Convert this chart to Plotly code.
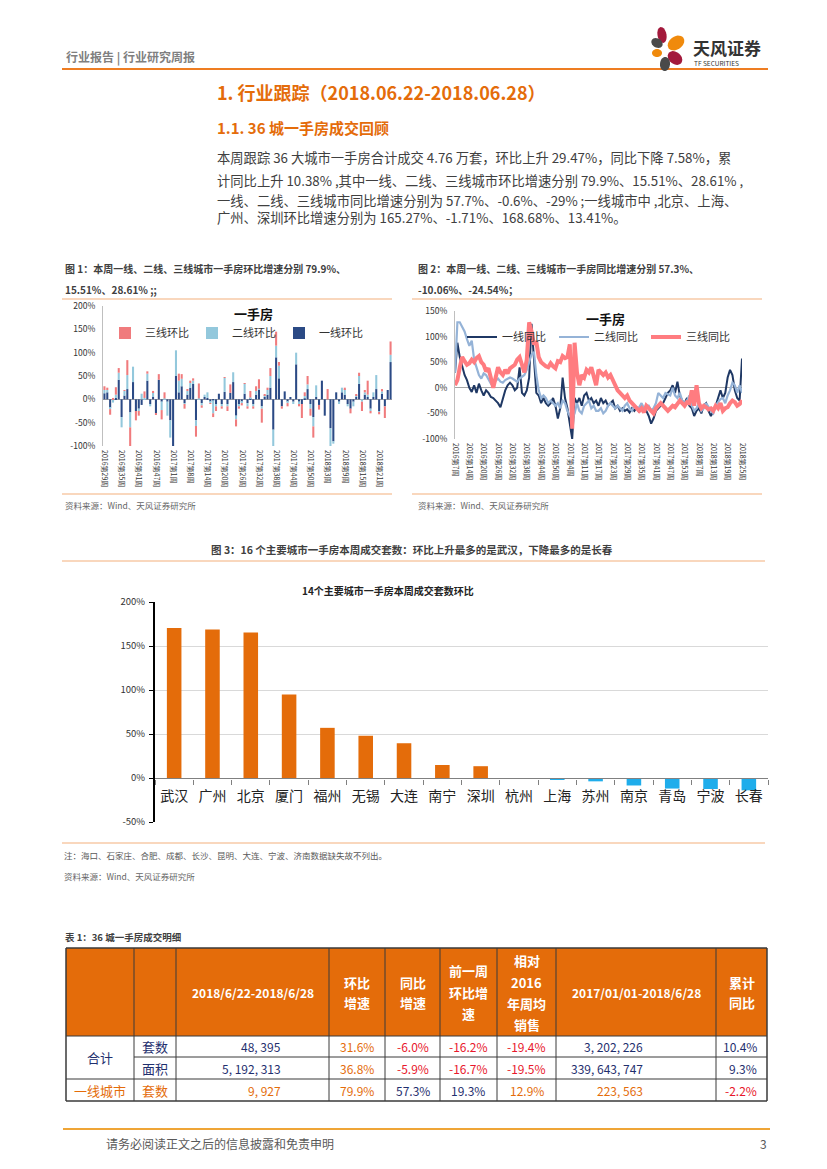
import math
import plotly.graph_objects as go

# page is 827x1169; the browser body has an 8px margin, so the figure is drawn
# 8px in from the page corner and sized to fit inside the window.
PAGE_OFF = 8
W, H = 827 - 2 * PAGE_OFF, 1169 - 2 * PAGE_OFF
FONT = "Noto Sans CJK SC"

# ---------------- data ----------------
def weeks(year, first, last, skip=()):
    return [f"{year}第{w}周" for w in range(first, last + 1) if w not in skip]

fig1_weeks = weeks(2016, 29, 52) + weeks(2017, 1, 53, (5,)) + weeks(2018, 1, 25)
tier1_mom = [13, 15, -18, -3, 3, 42, -38, 8, 22, -28,
             37, -25, -20, -12, 0, 40, -10, 5, -30, 42,
             -5, 0, -5, -45, -100, 50, 15, 28, -8, 10,
             25, 33, -45, 0, -8, 5, 3, -5, -2, -10,
             12, -10, 16, -10, 14, 37, -35, -10, -5, 12,
             -8, 2, -10, 10, 20, -15, 5, 10, 25, -65,
             90, 45, -15, 17, -5, 5, -5, 75, -5, -10,
             2, 22, -10, -38, 5, -12, 40, -35, 0, -62,
             -90, 15, -5, 15, 10, -10, -20, -5, 5, 33,
             0, 10, 5, -20, 5, 22, -25, 12, -15, 20,
             79.9]
tier2_mom = [7, 5, -3, -4, 7, 15, -22, 10, 30, -32,
             33, 0, -5, 12, 3, 15, -5, 10, 0, 0,
             -18, 2, -30, -37, 0, 55, 25, 16, -2, 8,
             10, 7, -12, 2, -5, 5, 12, -3, -28, -5,
             0, -5, 30, -5, 0, 21, -8, -5, -3, 22,
             -7, 2, -5, 8, 3, -5, 3, 10, 25, -35,
             25, 27, 0, 0, -3, 0, -5, 25, -5, 0,
             5, 10, -10, -20, 25, 0, 0, 0, 0, -38,
             -5, 0, -5, 10, 12, -5, 0, -10, 3, 17,
             -5, 5, 5, -5, 10, 30, -2, 5, 0, 0,
             15.51]
tier3_mom = [8, 5, -12, 3, 16, 10, 0, 2, 32, -40,
             0, -20, -10, 0, 14, 5, 0, 3, -3, 12,
             -20, 13, 0, 0, 0, 0, 15, 10, -10, 4,
             5, 5, -23, 32, -5, 0, 0, -2, -8, -10,
             0, -5, 1, -10, 18, 0, -15, -5, -5, 1,
             -5, 14, -5, 10, 20, -30, 2, 5, 17, 0,
             30, 8, -5, 0, -7, 0, 0, 0, -5, -30,
             8, 18, -15, -24, 0, -10, 0, 0, 22, 0,
             0, 0, 0, 0, 3, 0, -10, 0, 2, 7,
             -20, 5, 30, -5, 0, 0, -5, 5, -25, 0,
             28.61]

fig2_weeks = weeks(2016, 7, 52, (8,)) + weeks(2017, 1, 53, (5,)) + weeks(2018, 1, 25, (6,))
tier1_yoy = [30, 88, 60, 40, 25, 15, 0, -8, 5, -10,
             8, -5, -15, -5, -10, -18, -20, -25, -30, -38,
             -20, -5, 5, 10, 5, -5, 0, 40, -10, -15,
             -5, 20, 125, 55, -10, -15, -30, -20, -30, -35,
             -30, -20, -35, -60, -40, 20, -20, -40, -75, -100,
             -20, -30, -20, -35, -15, -10, -25, -20, -30, -25,
             -35, -20, -30, -25, -35, -30, -25, -40, -35, -45,
             -40, -45, -42, -48, -40, -45, -38, -48, -35, -40,
             -45, -55, -70, -60, -45, -40, -35, -30, -20, -10,
             -5, 5, -10, 12, -15, -25, -30, -20, -35, -40,
             -55, -45, -40, -50, -35, -30, -45, -55, -45, -35,
             -20, -5, -20, -10, 20, 35, 25, -5, -20, -25,
             57.3]
tier2_yoy = [30, 128, 128, 120, 110, 95, 82, 92, 55, 40,
             25, 18, 28, 25, 15, 8, 10, 15, 18, 12,
             10, 15, 18, 20, 18, 15, 12, 18, 22, 25,
             35, 50, 65, 70, 25, -5, -20, -15, -20, -30,
             -25, -30, -35, -30, -40, -25, -30, -45, -55, -60,
             -50, -30, -45, -50, -35, -30, -25, -40, -35, -45,
             -45, -40, -50, -45, -35, -30, -35, -40, -35, -40,
             -45, -35, -30, -40, -45, -35, -40, -38, -30, -40,
             -35, -35, -45, -40, -30, -10, -15, -20, -10, -12,
             -15, 0, -15, -20, -10, -25, -30, -25, -15, -35,
             -45, -40, -30, -45, -40, -30, -38, -45, -50, -35,
             -28, -22, -20, -30, -15, -5, 10, 5, -10, 5,
             -10.06]
tier3_yoy = [5, 15, 40, 60, 52, 45, 48, 55, 50, 58,
             62, 50, 45, 32, 38, 15, 0, 20, 40, 30,
             25, 35, 28, 38, 42, 45, 55, 60, 45, 30,
             55, 128, 110, 85, 90, 60, 50, 45, 42, 40,
             48, 42, 38, 52, 50, 62, 58, 60, 85, -80,
             88, 30, 5, 25, 20, 35, 30, 40, 25, 5,
             35, 30, 25, 30, 20, 25, 15, 5, -5, -10,
             -15, -20, -15, -25, -30, -35, -38, -45, -40, -48,
             -35, -40, -45, -50, -40, -35, -30, -35, -40, -45,
             -40, -35, -38, -30, -25, -30, -35, -28, -30, -5,
             -35, 5, -30, -40, -35, -38, -42, -40, -45, -35,
             -40, -30, -45, -40, -38, -30, -25, -28, -35, -32,
             -24.54]

cities = ["武汉", "广州", "北京", "厦门", "福州", "无锡", "大连", "南宁",
          "深圳", "杭州", "上海", "苏州", "南京", "青岛", "宁波", "长春"]
city_mom = [170.5, 168.68, 165.27, 95, 57, 48, 39.5, 14.8,
            13.41, -1.0, -1.71, -3.8, -8.5, -12, -12.5, -14]

ticks_fig1 = [-100, -50, 0, 50, 100, 150, 200]
ticks_fig2 = [-100, -50, 0, 50, 100, 150]
ticks_fig3 = [-50, 0, 50, 100, 150, 200]

table_head = ["", "", "2018/6/22-2018/6/28", "环比|增速", "同比|增速", "前一周|环比增|速",
              "相对|2016|年周均|销售", "2017/01/01-2018/6/28", "累计|同比"]
row_total_units = ["48, 395", "31.6%", "-6.0%", "-16.2%", "-19.4%", "3, 202, 226", "10.4%"]
row_total_area = ["5, 192, 313", "36.8%", "-5.9%", "-16.7%", "-19.5%", "339, 643, 747", "9.3%"]
row_tier1_units = ["9, 927", "79.9%", "57.3%", "19.3%", "12.9%", "223, 563", "-2.2%"]

# ---------------- helpers (page pixel -> paper fraction) ----------------
def X(p):
    return (p - PAGE_OFF) / W

def Y(p):
    return 1 - (p - PAGE_OFF) / H

shapes = []
annotations = []

def hline(x0, x1, y, color, width=1):
    shapes.append(dict(type="line", xref="paper", yref="paper", x0=X(x0), x1=X(x1),
                       y0=Y(y), y1=Y(y), line=dict(color=color, width=width)))

def vline(x, y0, y1, color, width=1):
    shapes.append(dict(type="line", xref="paper", yref="paper", x0=X(x), x1=X(x),
                       y0=Y(y0), y1=Y(y1), line=dict(color=color, width=width)))

def rect(x0, y0, x1, y1, fill):
    shapes.append(dict(type="rect", xref="paper", yref="paper", x0=X(x0), x1=X(x1),
                       y0=Y(y1), y1=Y(y0), fillcolor=fill, line=dict(width=0), layer="below"))

def text(x, y, s, size=12, color="#333333", bold=False, anchor="left", family=FONT):
    if bold:
        s = f"<b>{s}</b>"
    annotations.append(dict(xref="paper", yref="paper", x=X(x), y=Y(y), text=s,
                            showarrow=False, xanchor=anchor, yanchor="middle",
                            font=dict(size=size, color=color, family=family), borderpad=0))

def petal(cx, cy, rx, ry, ang, color):
    a = math.radians(ang)
    pts = []
    for k in range(28):
        t = 2 * math.pi * k / 28
        ex, ey = rx * math.cos(t), ry * math.sin(t)
        qx = cx + ex * math.cos(a) - ey * math.sin(a)
        qy = cy + ex * math.sin(a) + ey * math.cos(a)
        pts.append(f"{X(qx):.5f},{Y(qy):.5f}")
    shapes.append(dict(type="path", xref="paper", yref="paper",
                       path="M " + " L ".join(pts) + " Z", fillcolor=color, line=dict(width=0)))

ORANGE = "#E46C0A"
LIGHT_OR = "#F3B07C"
NAVY = "#1F2F6E"
RED = "#E8172C"

# ---------------- page header ----------------
text(65, 57, "行业报告 | 行业研究周报", 12, "#7F7F7F", bold=True)
hline(62, 768, 69, "#EE7D22", 2)
petal(662, 35, 8, 4.5, -100, "#A3193C")
petal(676, 43, 9, 6.5, -35, "#F08A0C")
petal(657, 43, 6, 4.5, -150, "#4A4A4A")
petal(657, 53, 5, 4, 180, "#F08A0C")
petal(675, 58, 8, 6, 40, "#A3193C")
petal(665, 64, 7, 5, 95, "#4A4A4A")
text(692, 47, "天风证券", 17, "#333333", bold=True)
text(693, 63, "TF SECURITIES", 6.5, "#333333")

text(216, 92, "1. 行业跟踪（2018.06.22-2018.06.28）", 18, ORANGE, bold=True)
text(216, 128, "1.1. 36 城一手房成交回顾", 15, ORANGE, bold=True)
para = [
    "本周跟踪 36 大城市一手房合计成交 4.76 万套，环比上升 29.47%，同比下降 7.58%，累",
    "计同比上升 10.38% ,其中一线、二线、三线城市环比增速分别 79.9%、15.51%、28.61% ,",
    "一线、二线、三线城市同比增速分别为 57.7%、-0.6%、-29% ;一线城市中 ,北京、上海、",
    "广州、深圳环比增速分别为 165.27%、-1.71%、168.68%、13.41%。",
]
for s, yy in zip(para, [158, 180, 200, 218]):
    text(216, yy, s, 13.3, "#404040")

# ---------------- figure captions ----------------
text(64, 268, "图 1：本周一线、二线、三线城市一手房环比增速分别 79.9%、", 10, "#404040", bold=True)
text(64, 289, "15.51%、28.61% ;;", 10, "#404040", bold=True)
hline(62, 392, 299, LIGHT_OR, 1.2)
hline(62, 392, 494, LIGHT_OR, 1.2)
text(64, 505, "资料来源：Wind、天风证券研究所", 8.5, "#666666")
text(253, 314, "一手房", 13, "#111111", bold=True, anchor="center")

text(417, 268, "图 2：本周一线、二线、三线城市一手房同比增速分别 57.3%、", 10, "#404040", bold=True)
text(417, 289, "-10.06%、-24.54%；", 10, "#404040", bold=True)
hline(412, 762, 299, LIGHT_OR, 1.2)
hline(412, 762, 494, LIGHT_OR, 1.2)
text(417, 505, "资料来源：Wind、天风证券研究所", 8.5, "#666666")
text(605, 318, "一手房", 13, "#111111", bold=True, anchor="center")

text(412, 550, "图 3：16 个主要城市一手房本周成交套数：环比上升最多的是武汉，下降最多的是长春",
     10.5, "#404040", bold=True, anchor="center")
hline(62, 765, 561, LIGHT_OR, 1.2)
text(388, 590, "14个主要城市一手房本周成交套数环比", 10, "#222222", bold=True, anchor="center")
hline(62, 765, 843, LIGHT_OR, 1.2)
text(63, 855, "注：海口、石家庄、合肥、成都、长沙、昆明、大连、宁波、济南数据缺失故不列出。", 8.5, "#595959")
text(63, 876, "资料来源：Wind、天风证券研究所", 8.5, "#666666")

# ---------------- table ----------------
cols = [66, 134, 176, 329, 385, 440, 497, 556, 716, 767]
rows = [948, 1036, 1057, 1079, 1101]
text(64, 937, "表 1：36 城一手房成交明细", 9.5, "#404040", bold=True)
rect(cols[0], rows[0], cols[-1], rows[1], ORANGE)
BORDER = "#3A3A3A"
hline(cols[0], cols[-1], rows[0], BORDER, 1.5)
hline(cols[0], cols[-1], rows[1], BORDER, 1.2)
hline(cols[1], cols[-1], rows[2], BORDER, 1)
hline(cols[0], cols[-1], rows[3], BORDER, 1.2)
hline(cols[0], cols[-1], rows[4], BORDER, 1.5)
for i, cx in enumerate(cols):
    vline(cx, rows[0], rows[4], BORDER, 1.5 if i in (0, len(cols) - 1) else 1)

head_lines_y = {1: [992], 2: [982, 1002], 3: [970, 992, 1013], 4: [960, 982, 1003, 1024]}
for ci, label in enumerate(table_head):
    if not label:
        continue
    parts = label.split("|")
    cx = (cols[ci] + cols[ci + 1]) / 2
    for part, yy in zip(parts, head_lines_y[len(parts)]):
        size = 12 if "/" in part else 13
        text(cx, yy, part, size, "#FFFFFF", bold=True, anchor="center")

row_y = [1046.5, 1068, 1090]
text(100, 1057, "合计", 13, NAVY, anchor="center")
text(155, row_y[0], "套数", 13, NAVY, anchor="center")
text(155, row_y[1], "面积", 13, NAVY, anchor="center")
text(100, row_y[2], "一线城市", 13, ORANGE, anchor="center")
text(155, row_y[2], "套数", 13, ORANGE, anchor="center")

row_colors = [
    [NAVY, ORANGE, RED, RED, RED, NAVY, NAVY],
    [NAVY, ORANGE, RED, RED, RED, NAVY, NAVY],
    [ORANGE, ORANGE, NAVY, NAVY, ORANGE, ORANGE, RED],
]
for r, (vals, yy) in enumerate(zip([row_total_units, row_total_area, row_tier1_units], row_y)):
    for k, v in enumerate(vals):
        ci = k + 2
        c = row_colors[r][k]
        if ci == 2:
            text(282, yy, v, 12, c, anchor="right")
        elif ci == 7:
            text(644, yy, v, 12, c, anchor="right")
        elif ci == 8:
            text(758, yy, v, 12, c, anchor="right")
        else:
            text((cols[ci] + cols[ci + 1]) / 2, yy, v, 12, c, anchor="center")

# ---------------- footer ----------------
hline(63, 770, 1129, "#EFA536", 2)
text(105, 1143, "请务必阅读正文之后的信息披露和免责申明", 12, "#595959")
text(768, 1143, "3", 12, "#595959", anchor="right")

# ---------------- traces ----------------
fig = go.Figure()
bar_specs = [("一线环比", tier1_mom, "#2B4A85"), ("二线环比", tier2_mom, "#93C8DC"),
             ("三线环比", tier3_mom, "#F07B7D")]
for name, vals, col in bar_specs:
    fig.add_trace(go.Bar(x=fig1_weeks, y=vals, name=name, marker=dict(color=col, line=dict(width=0)),
                         xaxis="x", yaxis="y", legend="legend"))

line_specs = [("一线同比", tier1_yoy, "#1F3864", 2), ("二线同比", tier2_yoy, "#95B3D7", 2.2),
              ("三线同比", tier3_yoy, "#FF7C80", 4)]
for name, vals, col, wd in line_specs:
    fig.add_trace(go.Scatter(x=fig2_weeks, y=vals, name=name, mode="lines",
                             line=dict(color=col, width=wd), xaxis="x2", yaxis="y2", legend="legend2"))

fig.add_trace(go.Bar(x=cities, y=city_mom, width=0.38, showlegend=False,
                     marker=dict(color=["#E46C0A" if v >= 0 else "#1FADEB" for v in city_mom],
                                 line=dict(width=0)),
                     xaxis="x3", yaxis="y3"))

def pct(v):
    return f"{v}%"

tickfont_small = dict(size=8.5, color="#333333", family=FONT)
fig.update_layout(
    width=W, height=H, autosize=False,
    margin=dict(l=0, r=0, t=0, b=0),
    paper_bgcolor="white", plot_bgcolor="rgba(0,0,0,0)",
    font=dict(family=FONT, color="#333333"),
    barmode="relative", bargap=0.28,
    shapes=shapes, annotations=annotations,
    xaxis=dict(domain=[X(103), X(392)], anchor="y", type="category", range=[-0.5, 100.5],
               tickvals=fig1_weeks[::6], ticktext=fig1_weeks[::6], tickangle=90,
               tickfont=dict(size=7, color="#333333", family=FONT), showgrid=False,
               showline=False, zeroline=False, ticks="", ticklabelstandoff=3,
               automargin=False, fixedrange=True),
    yaxis=dict(domain=[Y(446), Y(306)], anchor="x", range=[-100, 200],
               tickvals=ticks_fig1, ticktext=[pct(v) for v in ticks_fig1], tickfont=tickfont_small,
               showgrid=False, zeroline=True, zerolinecolor="#A6A6A6", zerolinewidth=1,
               showline=True, linecolor="#BFBFBF", linewidth=1, ticks="", ticklabelstandoff=5,
               automargin=False, fixedrange=True),
    xaxis2=dict(domain=[X(455), X(742)], anchor="y2", type="category", range=[0, 120],
                tickvals=fig2_weeks[::6], ticktext=fig2_weeks[::6], tickangle=90,
                tickfont=dict(size=7, color="#333333", family=FONT), showgrid=False,
                showline=False, zeroline=False, ticks="", ticklabelstandoff=3,
                automargin=False, fixedrange=True),
    yaxis2=dict(domain=[Y(439), Y(311)], anchor="x2", range=[-100, 150],
                tickvals=ticks_fig2, ticktext=[pct(v) for v in ticks_fig2], tickfont=tickfont_small,
                showgrid=False, zeroline=True, zerolinecolor="#A6A6A6", zerolinewidth=1,
                showline=True, linecolor="#BFBFBF", linewidth=1, ticks="", ticklabelstandoff=5,
                automargin=False, fixedrange=True),
    xaxis3=dict(domain=[X(155), X(768)], anchor="free", position=Y(778.4), type="category",
                tickfont=dict(size=14, color="#222222", family=FONT), showgrid=False,
                showline=True, linecolor="#808080", linewidth=1.2, zeroline=False,
                ticks="outside", tickson="boundaries", ticklen=5, tickcolor="#808080",
                ticklabelstandoff=5, automargin=False, fixedrange=True),
    yaxis3=dict(domain=[Y(822), Y(602)], anchor="x3", range=[-50, 200],
                tickvals=ticks_fig3, ticktext=[pct(v) for v in ticks_fig3],
                tickfont=dict(size=9.5, color="#333333", family=FONT),
                showgrid=True, gridcolor="#D9D9D9", gridwidth=1, zeroline=False,
                showline=True, linecolor="#000000", linewidth=2, ticks="outside", ticklen=4,
                tickcolor="#000000", ticklabelstandoff=2, automargin=False, fixedrange=True),
    legend=dict(orientation="h", x=X(105), y=Y(333), xanchor="left", yanchor="middle",
                traceorder="reversed", font=dict(size=11, color="#333333", family=FONT),
                bgcolor="rgba(0,0,0,0)", entrywidth=42, entrywidthmode="pixels"),
    legend2=dict(orientation="h", x=X(462), y=Y(337), xanchor="left", yanchor="middle",
                 traceorder="normal", font=dict(size=11, color="#333333", family=FONT),
                 bgcolor="rgba(0,0,0,0)", entrywidth=47, entrywidthmode="pixels"),
)

fig.write_html("out.html")
